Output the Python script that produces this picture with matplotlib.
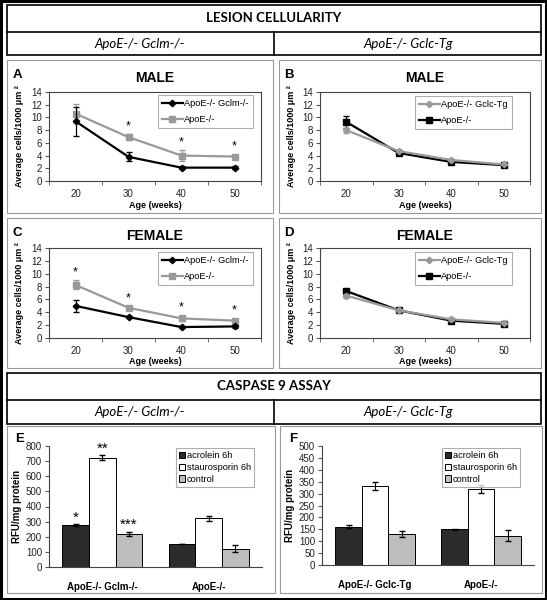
import numpy as np
import matplotlib
matplotlib.use('Agg')
import matplotlib.pyplot as plt
from matplotlib.patches import Rectangle
from matplotlib.lines import Line2D

W, H = 547, 600

# ---- data: lesion cellularity (cells/1000 um2) ----
ages = ['20', '30', '40', '50']

a_gclm = [9.4, 3.8, 2.1, 2.1]
a_gclm_err = [2.3, 0.7, 0.2, 0.2]
a_apoe = [10.6, 6.9, 4.0, 3.85]
a_apoe_err = [1.5, 0.5, 0.9, 0.3]
a_stars = [False, True, True, True]

b_gclc = [8.0, 4.7, 3.3, 2.6]
b_gclc_err = [0.4, 0.2, 0.2, 0.1]
b_apoe = [9.3, 4.4, 3.0, 2.5]
b_apoe_err = [0.9, 0.3, 0.3, 0.2]

c_gclm = [5.0, 3.25, 1.7, 1.8]
c_gclm_err = [0.9, 0.2, 0.2, 0.2]
c_apoe = [8.25, 4.7, 3.05, 2.7]
c_apoe_err = [0.7, 0.2, 0.4, 0.3]
c_stars = [True, True, True, True]

d_gclc = [6.6, 4.3, 2.9, 2.35]
d_gclc_err = [0.3, 0.2, 0.2, 0.1]
d_apoe = [7.3, 4.3, 2.7, 2.2]
d_apoe_err = [0.4, 0.2, 0.2, 0.1]

# ---- data: caspase 9 assay (RFU/mg protein) ----
treatments = ['acrolein 6h', 'staurosporin 6h', 'control']
e_groups = ['ApoE-/- Gclm-/-', 'ApoE-/-']
e_acrolein = [275, 152]
e_acrolein_err = [6, 3]
e_stauro = [723, 321]
e_stauro_err = [15, 15]
e_control = [220, 121]
e_control_err = [12, 22]
e_stars = [['*', '**', '***'], ['', '', '']]

f_groups = ['ApoE-/- Gclc-Tg', 'ApoE-/-']
f_acrolein = [161, 150]
f_acrolein_err = [7, 3]
f_stauro = [331, 318]
f_stauro_err = [17, 17]
f_control = [130, 123]
f_control_err = [13, 22]

CHART_FONT = 'Liberation Sans'
HEAD_FONT = 'Lato'
GRAY = '#999999'

fig = plt.figure(figsize=(W / 100, H / 100), dpi=100)


def px_axes(x0, y0, x1, y1):
    return fig.add_axes([x0 / W, 1 - y1 / H, (x1 - x0) / W, (y1 - y0) / H])


def box(x0, y0, x1, y1, color='black', lw=1.0):
    fig.add_artist(Rectangle((x0 / W, 1 - y1 / H), (x1 - x0) / W, (y1 - y0) / H,
                             transform=fig.transFigure, fill=False,
                             edgecolor=color, lw=lw))


def line(x0, y0, x1, y1, color='black', lw=1.0):
    fig.add_artist(Line2D([x0 / W, x1 / W], [1 - y0 / H, 1 - y1 / H],
                          transform=fig.transFigure, color=color, lw=lw))


def text(x, y, s, **kw):
    fig.text(x / W, 1 - y / H, s, ha='center', va='center', **kw)


def header(y0, y1, y2, title, left, right):
    box(7, y0, 541, y2, lw=1.2)
    line(7, y1, 541, y1, lw=1.2)
    line(274, y1, 274, y2, lw=1.2)
    text(274, (y0 + y1) / 2, title, family=HEAD_FONT, fontsize=9.5, weight='bold')
    text(140, (y1 + y2) / 2, left, family=HEAD_FONT, fontsize=9.5, style='italic')
    text(408, (y1 + y2) / 2, right, family=HEAD_FONT, fontsize=9.5, style='italic')


def line_panel(pbox, abox, letter, title, s1, e1, l1, c1, m1, s2, e2, l2, c2, m2,
               stars=None, leg=None):
    box(*pbox, color=GRAY, lw=0.8)
    x0, y0, x1, y1 = abox
    ax = px_axes(*abox)
    x = np.arange(len(ages))
    ms1 = 4 if m1 == 's' else 3.3
    ms2 = 4 if m2 == 's' else 3.3
    ax.errorbar(x, s1, yerr=e1, color=c1, marker=m1, ms=ms1,
                lw=1.6, capsize=2, elinewidth=0.9, ecolor=c1, zorder=3)
    ax.errorbar(x, s2, yerr=e2, color=c2, marker=m2, ms=ms2,
                lw=1.6, capsize=2, elinewidth=0.9, ecolor=c2, zorder=2)
    if stars is not None:
        for i, st in enumerate(stars):
            if st:
                ax.text(x[i], s2[i] + e2[i] + 0.3, '*', ha='center', va='bottom',
                        fontsize=9, family=CHART_FONT)
    ax.set_xlim(-0.5, 3.5)
    ax.set_ylim(0, 14)
    ax.set_yticks(range(0, 15, 2))
    ax.set_xticks(x)
    ax.set_xticklabels(ages)
    ax.set_xticks(np.arange(-0.5, 4, 1), minor=True)
    ax.tick_params(axis='x', which='major', length=0, pad=6, labelsize=7)
    ax.tick_params(axis='x', which='minor', length=3, color='#555')
    ax.tick_params(axis='y', length=3, pad=2, labelsize=7, color='#555')
    for lab in ax.get_xticklabels() + ax.get_yticklabels():
        lab.set_family(CHART_FONT)
        lab.set_color('#222')
    for sp in ax.spines.values():
        sp.set_color('#444')
        sp.set_linewidth(0.8)
    handles = [Line2D([], [], color=c1, marker=m1, ms=ms1, lw=1.6),
               Line2D([], [], color=c2, marker=m2, ms=ms2, lw=1.6)]
    lg = ax.legend(handles, [l1, l2], loc='upper left',
                   bbox_to_anchor=(leg[0] / W, 1 - leg[1] / H),
                   bbox_transform=fig.transFigure, frameon=True, fancybox=False,
                   edgecolor=GRAY, prop={'family': CHART_FONT, 'size': 6.7},
                   handlelength=2.2, handletextpad=0.15, borderpad=0.45,
                   labelspacing=0.75, borderaxespad=0)
    lg.get_frame().set_linewidth(0.8)
    px0 = pbox[0]
    text(px0 + 10, pbox[1] + 15, letter, family=CHART_FONT, fontsize=9.5, weight='bold')
    text((x0 + x1) / 2, pbox[1] + 18, title, family=CHART_FONT, fontsize=10, weight='bold')
    text((x0 + x1) / 2, y1 + 24, 'Age (weeks)', family=CHART_FONT, fontsize=6.5, weight='bold')
    fig.text((px0 + 13) / W, 1 - (y0 + y1) / 2 / H, 'Average cells/1000 μm ²',
             rotation=90, ha='center', va='center', family=CHART_FONT,
             fontsize=6.5, weight='bold')
    return ax


def bar_panel(pbox, abox, letter, groups, vals, errs, ymax, ystep, stars=None, leg=None):
    box(*pbox, color=GRAY, lw=0.8)
    x0, y0, x1, y1 = abox
    ax = px_axes(*abox)
    x = np.arange(len(groups))
    colors = ['#2b2b2b', 'white', '#bdbdbd']
    w = 0.25
    for k in range(3):
        xs = x + (k - 1) * w
        ax.bar(xs, vals[k], w, color=colors[k], edgecolor='black', lw=0.7,
               label=treatments[k], zorder=2)
        ax.errorbar(xs, vals[k], yerr=errs[k], fmt='none', ecolor='black',
                    elinewidth=0.8, capsize=2.5, zorder=3)
        if stars is not None:
            for i in range(len(groups)):
                if stars[i][k]:
                    ax.text(xs[i], vals[k][i] + errs[k][i], stars[i][k], ha='center',
                            va='bottom', fontsize=11, family=CHART_FONT)
    ax.set_xlim(-0.5, len(groups) - 0.5)
    ax.set_ylim(0, ymax)
    ax.set_yticks(np.arange(0, ymax + 1, ystep))
    ax.set_xticks(x)
    ax.set_xticklabels(groups)
    ax.tick_params(axis='x', length=0, pad=11, labelsize=7)
    ax.tick_params(axis='y', length=3, pad=2, labelsize=7, color='#555')
    for lab in ax.get_xticklabels():
        lab.set_family(CHART_FONT)
        lab.set_weight('bold')
    for lab in ax.get_yticklabels():
        lab.set_family(CHART_FONT)
        lab.set_color('#222')
    ax.spines['top'].set_visible(False)
    ax.spines['right'].set_visible(False)
    for sp in ['left', 'bottom']:
        ax.spines[sp].set_color('#444')
        ax.spines[sp].set_linewidth(0.8)
    lg = ax.legend(loc='upper left', bbox_to_anchor=(leg[0] / W, 1 - leg[1] / H),
                   bbox_transform=fig.transFigure, frameon=True, fancybox=False,
                   edgecolor=GRAY, prop={'family': CHART_FONT, 'size': 6.7},
                   handlelength=0.65, handleheight=0.65, handletextpad=0.15,
                   borderpad=0.35, labelspacing=0.3, borderaxespad=0)
    lg.get_frame().set_linewidth(0.8)
    text(pbox[0] + 13, pbox[1] + 13, letter, family=CHART_FONT, fontsize=9.5, weight='bold')
    fig.text((pbox[0] + 10) / W, 1 - (y0 + y1) / 2 / H, 'RFU/mg protein', rotation=90,
             ha='center', va='center', family=CHART_FONT, fontsize=7, weight='bold')
    return ax


# outer frame
box(1.2, 1.2, 545.8, 598.5, lw=2.2)

# lesion cellularity
header(5, 32, 55, 'LESION CELLULARITY', 'ApoE-/- Gclm-/-', 'ApoE-/- Gclc-Tg')

line_panel((7, 60, 273, 213), (49, 92, 261, 181), 'A', 'MALE',
           a_gclm, a_gclm_err, 'ApoE-/- Gclm-/-', 'black', 'D',
           a_apoe, a_apoe_err, 'ApoE-/-', GRAY, 's', stars=a_stars, leg=(158, 95))
line_panel((279, 60, 541, 213), (320, 92, 530, 181), 'B', 'MALE',
           b_gclc, b_gclc_err, 'ApoE-/- Gclc-Tg', GRAY, 'D',
           b_apoe, b_apoe_err, 'ApoE-/-', 'black', 's', leg=(415, 96))
line_panel((7, 218, 273, 368), (49, 248, 261, 338), 'C', 'FEMALE',
           c_gclm, c_gclm_err, 'ApoE-/- Gclm-/-', 'black', 'D',
           c_apoe, c_apoe_err, 'ApoE-/-', GRAY, 's', stars=c_stars, leg=(158, 252))
line_panel((279, 218, 541, 368), (320, 248, 530, 338), 'D', 'FEMALE',
           d_gclc, d_gclc_err, 'ApoE-/- Gclc-Tg', GRAY, 'D',
           d_apoe, d_apoe_err, 'ApoE-/-', 'black', 's', leg=(415, 252))

# caspase 9 assay
header(373, 400, 424, 'CASPASE 9 ASSAY', 'ApoE-/- Gclm-/-', 'ApoE-/- Gclc-Tg')

bar_panel((7, 426, 275, 593), (49, 446, 262, 567), 'E', e_groups,
          [e_acrolein, e_stauro, e_control], [e_acrolein_err, e_stauro_err, e_control_err],
          800, 100, stars=e_stars, leg=(176, 448))
bar_panel((280, 426, 542, 593), (322, 446, 534, 565), 'F', f_groups,
          [f_acrolein, f_stauro, f_control], [f_acrolein_err, f_stauro_err, f_control_err],
          500, 50, leg=(442, 448))

fig.savefig('out.png', dpi=100)
